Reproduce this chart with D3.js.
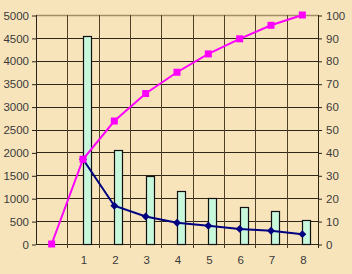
<!DOCTYPE html>
<html>
<head>
<meta charset="utf-8">
<script src="https://cdn.jsdelivr.net/npm/d3@7"></script>
<style>
  html, body { margin: 0; padding: 0; background: #f8e3b9; }
  svg { display: block; }
  .axis text { font-family: "Liberation Sans", Arial, sans-serif; font-size: 11.5px; fill: #3a3a3a; }
  .axis path { display: none; }
  .axis line { stroke: #2a2418; }
</style>
</head>
<body>
<script>
(function(){

    //chart data
    var categories = ["", "1", "2", "3", "4", "5", "6", "7", "8"];
    var barValues = [4550, 2050, 1485, 1160, 1000, 815, 720, 525]; //counts, left axis
    var pctValues = [37.0, 16.7, 12.0, 9.3, 8.0, 6.6, 5.8, 4.3]; //share of each, right axis
    var cumValues = [0, 37.0, 53.7, 65.7, 75.0, 83.0, 89.6, 95.5, 100]; //cumulative %, right axis
    var leftTicks = [0, 500, 1000, 1500, 2000, 2500, 3000, 3500, 4000, 4500, 5000];
    var rightTicks = [0, 10, 20, 30, 40, 50, 60, 70, 80, 90, 100];

    var width = 352, height = 274;
    var left = 36, right = 318, top = 15, bottom = 244;

    var svg = d3.select("body").append("svg")
        .attr("width", width)
        .attr("height", height);

    //parchment texture
    var defs = svg.append("defs");
    var filt = defs.append("filter").attr("id", "paper")
        .attr("x", 0).attr("y", 0).attr("width", "100%").attr("height", "100%");
    filt.append("feTurbulence")
        .attr("type", "fractalNoise")
        .attr("baseFrequency", "0.8")
        .attr("numOctaves", 2)
        .attr("seed", 3)
        .attr("result", "noise");
    filt.append("feColorMatrix")
        .attr("in", "noise")
        .attr("type", "matrix")
        .attr("values", "0 0 0 0 0.93  0 0 0 0 0.82  0 0 0 0 0.62  0 0 0 0.18 0")
        .attr("result", "tint");
    filt.append("feComposite").attr("in", "tint").attr("in2", "SourceGraphic").attr("operator", "over");

    svg.append("rect")
        .attr("width", width).attr("height", height)
        .attr("fill", "#f8e3b9");
    svg.append("rect")
        .attr("width", width).attr("height", height)
        .attr("fill", "#f8e3b9")
        .attr("filter", "url(#paper)");

    //scales
    var x = d3.scaleBand()
        .domain(categories)
        .range([left, right]);
    var yLeft = d3.scaleLinear().domain([0, 5000]).range([bottom, top]);
    var yRight = d3.scaleLinear().domain([0, 100]).range([bottom, top]);

    //horizontal gridlines
    svg.selectAll(".hgrid")
        .data(leftTicks)
        .enter()
        .append("line")
        .attr("class", "hgrid")
        .attr("x1", left).attr("x2", right)
        .attr("y1", function(d){ return Math.round(yLeft(d)) + 0.5; })
        .attr("y2", function(d){ return Math.round(yLeft(d)) + 0.5; })
        .attr("stroke", function(d){ return d == 5000 ? "#a48c64" : "#2e2616"; })
        .attr("stroke-width", function(d){ return d == 5000 ? 1.5 : 1; });

    //vertical gridlines on band edges
    svg.selectAll(".vgrid")
        .data(categories.slice(1))
        .enter()
        .append("line")
        .attr("class", "vgrid")
        .attr("x1", function(d){ return Math.round(x(d)) + 0.5; })
        .attr("x2", function(d){ return Math.round(x(d)) + 0.5; })
        .attr("y1", top).attr("y2", bottom + 4)
        .attr("stroke", "#4e4128");

    //bars
    svg.selectAll(".bars")
        .data(barValues)
        .enter()
        .append("rect")
        .attr("class", "bars")
        .attr("x", function(d, i){ return Math.round(x(categories[i + 1]) + x.bandwidth() / 2) + 0.5; })
        .attr("width", 8)
        .attr("y", function(d){ return Math.round(yLeft(d)) + 0.5; })
        .attr("height", function(d){ return bottom - Math.round(yLeft(d)); })
        .attr("fill", "#c8f8dc")
        .attr("stroke", "#111")
        .attr("stroke-width", 1.2);

    //axes
    svg.append("g")
        .attr("class", "axis")
        .attr("transform", "translate(" + left + ",0.5)")
        .call(d3.axisLeft(yLeft).tickValues(leftTicks).tickFormat(d3.format("d")).tickSize(4).tickPadding(3));
    svg.append("line")
        .attr("x1", left + 0.5).attr("x2", left + 0.5)
        .attr("y1", top).attr("y2", bottom + 1)
        .attr("stroke", "#2a2418");

    svg.append("g")
        .attr("class", "axis")
        .attr("transform", "translate(" + right + ",0.5)")
        .call(d3.axisRight(yRight).tickValues(rightTicks).tickSize(4).tickPadding(4));
    svg.append("line")
        .attr("x1", right + 0.5).attr("x2", right + 0.5)
        .attr("y1", top).attr("y2", bottom + 4)
        .attr("stroke", "#2a2418");

    var bottomAxis = svg.append("g")
        .attr("class", "axis")
        .attr("transform", "translate(0," + bottom + ")")
        .call(d3.axisBottom(x).tickSize(0).tickPadding(12));
    bottomAxis.selectAll("text").attr("dx", 1);

    //band centers for the lines
    var cx = function(c){ return x(c) + x.bandwidth() / 2; };

    //percent line (blue)
    var pctLine = d3.line()
        .x(function(d, i){ return cx(categories[i + 1]); })
        .y(function(d){ return yRight(d); });
    svg.append("path")
        .datum(pctValues)
        .attr("d", pctLine)
        .attr("fill", "none")
        .attr("stroke", "#000080")
        .attr("stroke-width", 2);
    svg.selectAll(".pctPts")
        .data(pctValues)
        .enter()
        .append("path")
        .attr("class", "pctPts")
        .attr("d", d3.symbol().type(d3.symbolDiamond2).size(40))
        .attr("transform", function(d, i){
            return "translate(" + cx(categories[i + 1]) + "," + yRight(d) + ")";
        })
        .attr("fill", "#000080");

    //cumulative line (magenta)
    var cumLine = d3.line()
        .x(function(d, i){ return cx(categories[i]); })
        .y(function(d){ return yRight(d); });
    svg.append("path")
        .datum(cumValues)
        .attr("d", cumLine)
        .attr("fill", "none")
        .attr("stroke", "#ff00ff")
        .attr("stroke-width", 2);
    svg.selectAll(".cumPts")
        .data(cumValues)
        .enter()
        .append("rect")
        .attr("class", "cumPts")
        .attr("x", function(d, i){ return cx(categories[i]) - 3.5; })
        .attr("y", function(d){ return yRight(d) - 3.5; })
        .attr("width", 7)
        .attr("height", 7)
        .attr("fill", "#ff00ff");

})();
</script>
</body>
</html>
